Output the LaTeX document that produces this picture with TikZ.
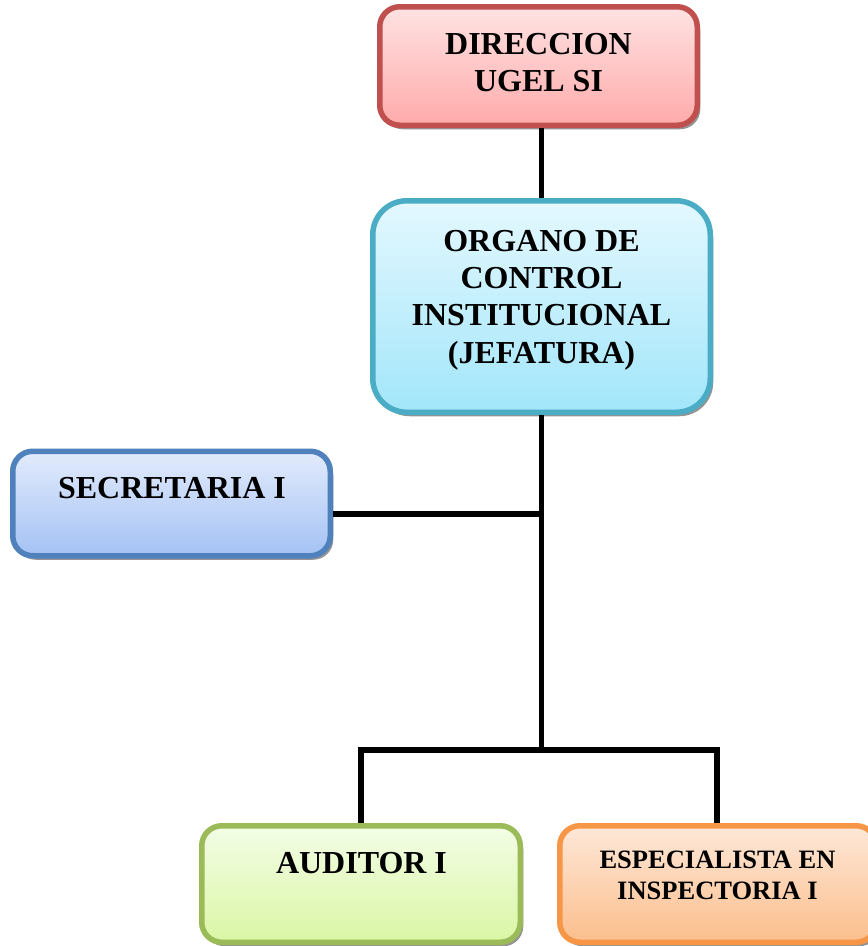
\documentclass[tikz,border=0pt]{standalone}
\usepackage{fontspec}
\setmainfont{Liberation Serif}
\usetikzlibrary{shadows}

% border and fill colours of the boxes
\definecolor{dirline}{HTML}{C0504D}
\definecolor{dirtop}{HTML}{FFE2E2}
\definecolor{dirbot}{HTML}{FFABAB}
\definecolor{orgline}{HTML}{4BACC6}
\definecolor{orgtop}{HTML}{E4F8FF}
\definecolor{orgbot}{HTML}{A2E6FA}
\definecolor{secline}{HTML}{4F81BD}
\definecolor{sectop}{HTML}{E2EBFC}
\definecolor{secbot}{HTML}{A4C2F4}
\definecolor{audline}{HTML}{9BBB59}
\definecolor{audtop}{HTML}{F3FDE6}
\definecolor{audbot}{HTML}{DAF6A4}
\definecolor{espline}{HTML}{F79646}
\definecolor{esptop}{HTML}{FEE8D8}
\definecolor{espbot}{HTML}{FBBE8C}

\tikzset{
  unitbox/.style={draw, line width=5.5pt, rounded corners=20pt,
    drop shadow={shadow xshift=3pt, shadow yshift=-4pt, fill=black, opacity=0.42},
    inner sep=0pt},
  boxlabel/.style={anchor=north, inner sep=0pt, align=center,
    font=\fontsize{32}{37.3}\selectfont\bfseries},
  smalllabel/.style={anchor=north, inner sep=0pt, align=center,
    font=\fontsize{26.5}{31}\selectfont\bfseries},
  link/.style={line width=5.5pt, line join=miter, black},
  linkshade/.style={line width=5.5pt, line join=miter, black!30}
}

\begin{document}
\begin{tikzpicture}[x=1pt, y=-1pt]
  \useasboundingbox (0,0) rectangle (868,946);
  \fill[white] (0,0) rectangle (868,946);
  \clip (0,0) rectangle (868,946);

  % boxes
  \node[unitbox, color=dirline, top color=dirtop, bottom color=dirbot,
        minimum width=317.5pt, minimum height=118.5pt] (dir) at (538.5,66) {};
  \node[unitbox, color=orgline, top color=orgtop, bottom color=orgbot,
        rounded corners=34pt,
        minimum width=337.5pt, minimum height=211.5pt] (org) at (541.5,306.5) {};
  \node[unitbox, color=secline, top color=sectop, bottom color=secbot,
        minimum width=317.5pt, minimum height=104.5pt] (sec) at (171.5,503.5) {};
  \node[unitbox, color=audline, top color=audtop, bottom color=audbot,
        minimum width=318.5pt, minimum height=116.5pt] (aud) at (361,884) {};
  \node[unitbox, color=espline, top color=esptop, bottom color=espbot,
        minimum width=316.5pt, minimum height=116.5pt] (esp) at (718,884) {};

  % labels
  \node[boxlabel] (dirtext) at (538.5,33) {DIRECCION\\UGEL SI};
  \node[boxlabel] (orgtext) at (541.5,230) {ORGANO DE\\CONTROL\\INSTITUCIONAL\\(JEFATURA)};
  \node[boxlabel] (sectext) at (172,477) {SECRETARIA I};
  \node[boxlabel] (audtext) at (361.5,852) {AUDITOR I};
  \node[smalllabel] (esptext) at (717.5,851) {ESPECIALISTA EN\\INSPECTORIA I};

  % junction points of the connectors
  \coordinate (split) at (org.south |- 0,750);
  \coordinate (secjoin) at ([yshift=-10.5pt]sec.east);

  % soft shade under the connectors
  \begin{scope}[shift={(2,2.5)}]
    \draw[linkshade] (org.south) -- (split);
    \draw[linkshade] (secjoin) -- (secjoin -| org.south);
    \draw[linkshade] (aud.north) -- (aud.north |- split) -- ([xshift=-1pt]esp.north |- split) -- ([xshift=-1pt]esp.north);
  \end{scope}

  % connectors
  \draw[link] (dir.south -| org.north) -- (org.north);
  \draw[link] (org.south) -- (split);
  \draw[link] (secjoin) -- (secjoin -| org.south);
  \draw[link] (aud.north) -- (aud.north |- split) -- ([xshift=-1pt]esp.north |- split) -- ([xshift=-1pt]esp.north);
\end{tikzpicture}
\end{document}
